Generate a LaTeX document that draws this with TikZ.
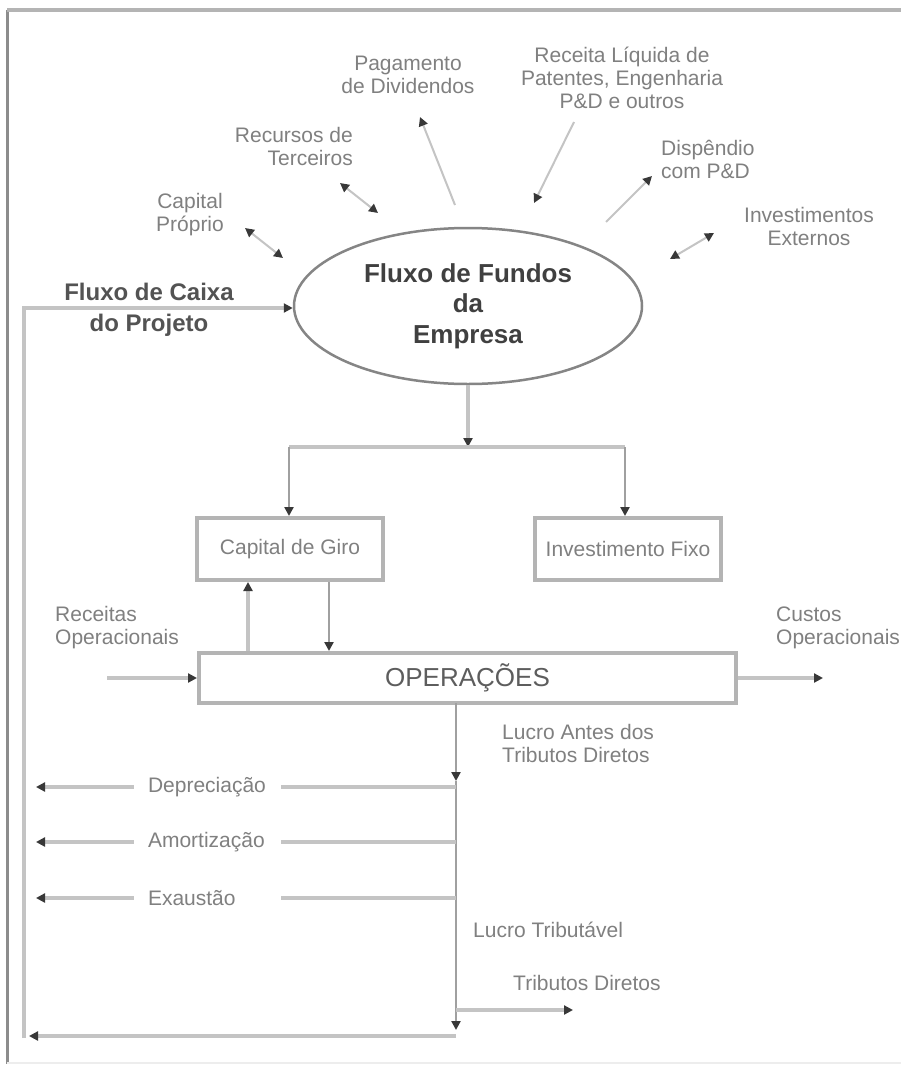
\documentclass[tikz,border=0pt]{standalone}
\usepackage{fontspec}
\setmainfont{Liberation Sans}
\usetikzlibrary{arrows.meta,shapes.geometric}
\definecolor{lblc}{HTML}{808080}
\definecolor{darkc}{HTML}{404040}
\definecolor{boxc}{HTML}{B4B4B4}
\definecolor{linec}{HTML}{A0A0A0}
\definecolor{lightc}{HTML}{C4C4C4}
\definecolor{tipc}{HTML}{383838}
\definecolor{framec}{HTML}{8C8C8C}
\definecolor{ellc}{HTML}{858585}
\begin{document}
\begin{tikzpicture}[x=1pt,y=-1pt,
  >={Triangle[length=9pt,width=9pt,color=tipc]},
  lbl/.style={font=\fontsize{21}{23}\selectfont, text=lblc, inner sep=0pt},
  boxn/.style={draw=boxc, line width=4pt, font=\fontsize{21}{23}\selectfont, text=lblc, inner sep=0pt},
  conn/.style={draw=linec, line width=2.5pt},
  lconn/.style={draw=lightc, line width=3.5pt},
  diag/.style={draw=lightc, line width=2pt},
  gapn/.style={lbl, text width=119pt, align=left, inner xsep=14pt, inner ysep=0pt}
]
\useasboundingbox (0,0) rectangle (901,1066);
\fill[white] (0,0) rectangle (901,1066);
% outer frame
\draw[line width=3pt, framec] (7,10) -- (7,1064);
\draw[line width=4pt, boxc] (7,10) -- (901,10);
\draw[line width=2pt, black!7] (7,1063) -- (901,1063);

% central ellipse
\node[ellipse, draw=ellc, line width=2.5pt, minimum width=348pt, minimum height=156pt,
      inner sep=0pt, font=\bfseries\fontsize{26}{30.5}\selectfont, text=darkc, align=center]
      (ell) at (468,306) {Fluxo de Fundos\\da\\Empresa};

% labels around the ellipse
\node[lbl, align=center] (pag) at (408,75) {Pagamento\\de Dividendos};
\node[lbl, align=center] (rec) at (622,78) {Receita Líquida de\\Patentes, Engenharia\\P\&D e outros};
\node[lbl, align=left, anchor=west] (disp) at (661,159) {Dispêndio\\com P\&D};
\node[lbl, align=center] (inv) at (809,226) {Investimentos\\Externos};
\node[lbl, align=right, anchor=east] (terc) at (353,146) {Recursos de\\Terceiros};
\node[lbl, align=center] (capp) at (190,215) {Capital\\Próprio};
\node[font=\bfseries\fontsize{24}{31}\selectfont, text=darkc!90, inner sep=0pt, align=center]
      (fcp) at (149,310) {Fluxo de Caixa\\do Projeto};

% small arrows around the ellipse
\coordinate (cp1) at (245,228); \coordinate (cp2) at (283,258);
\draw[diag,<->] (cp1) -- (cp2);
\coordinate (rt1) at (340,183); \coordinate (rt2) at (378,213);
\draw[diag,<->] (rt1) -- (rt2);
\coordinate (pg1) at (455,205); \coordinate (pg2) at (420,117);
\draw[diag,->] (pg1) -- (pg2);
\coordinate (rl1) at (574,122); \coordinate (rl2) at (534,203);
\draw[diag,->] (rl1) -- (rl2);
\coordinate (dp1) at (606,222); \coordinate (dp2) at (652,176);
\draw[diag,->] (dp1) -- (dp2);
\coordinate (ie1) at (670,259); \coordinate (ie2) at (714,233);
\draw[diag,<->] (ie1) -- (ie2);

% boxes
\node[boxn, minimum width=186pt, minimum height=62pt] (cg) at (290,549) {Capital de Giro};
\node[boxn, minimum width=186pt, minimum height=62pt] (if) at (628,549) {Investimento Fixo};
\node[draw=boxc, line width=4pt, minimum width=537pt, minimum height=50pt, inner sep=0pt,
      font=\fontsize{26}{28}\selectfont, text=darkc!85] (op) at (467.5,678) {OPERAÇÕES};

% distribution from ellipse
\coordinate (j1) at (468,447);
\coordinate (jl) at (289,447);
\coordinate (jr) at (625,447);
\draw[lconn,->] (ell.south) -- (j1);
\draw[lconn] (jl) -- (jr);
\draw[conn,->] (jl) -- (jl |- cg.north);
\draw[conn,->] (jr) -- (jr |- if.north);

% capital de giro <-> operacoes
\coordinate (u1) at (248,653);
\coordinate (d1) at (329,580);
\draw[lconn,->] (u1 |- op.north) -- (u1 |- cg.south);
\draw[conn,->] (d1 |- cg.south) -- (d1 |- op.north);

% receitas / custos
\node[lbl, align=left, anchor=west] (recop) at (55,628) {Receitas\\Operacionais};
\node[lbl, align=left, anchor=west] (custos) at (776,628) {Custos\\Operacionais};
\coordinate (rin) at (107,678);
\coordinate (cout) at (823,678);
\draw[lconn,->] (rin) -- (op.west);
\draw[lconn,->] (op.east) -- (cout);

% main vertical below operacoes
\coordinate (v0) at (456,703);
\coordinate (v1) at (456,781);
\coordinate (v2) at (456,1030);
\draw[conn,->] (v0) -- (v1);
\draw[conn,->] (v1) -- (v2);
\node[lbl, align=left, anchor=west] (lucro) at (502,743) {Lucro Antes dos\\Tributos Diretos};

% deductions
\node[gapn] (dep) at (207.5,787) {Depreciação};
\node[gapn] (amo) at (207.5,842) {Amortização};
\node[gapn] (exa) at (207.5,898) {Exaustão};
\coordinate (dv) at (456,787); \coordinate (dl) at (36,787);
\coordinate (av) at (456,842); \coordinate (al) at (36,842);
\coordinate (ev) at (456,898); \coordinate (el) at (36,898);
\draw[lconn] (dv) -- (dep);
\draw[lconn,->] (dep) -- (dl);
\draw[lconn] (av) -- (amo);
\draw[lconn,->] (amo) -- (al);
\draw[lconn] (ev) -- (exa);
\draw[lconn,->] (exa) -- (el);

\node[lbl, anchor=west] (lt) at (473,930) {Lucro Tributável};
\node[lbl, anchor=west] (td) at (513,983) {Tributos Diretos};
\coordinate (t0) at (456,1010);
\coordinate (t1) at (573,1010);
\draw[lconn,->] (t0) -- (t1);

% project cash flow loop
\coordinate (b0) at (456,1036);
\coordinate (b1) at (29,1036);
\draw[lconn,->] (b0) -- (b1);
\coordinate (lb) at (24,1038);
\coordinate (lt0) at (24,308);
\draw[lconn,->] (lb) -- (lt0) -- (lt0 -| ell.west);
\end{tikzpicture}
\end{document}
